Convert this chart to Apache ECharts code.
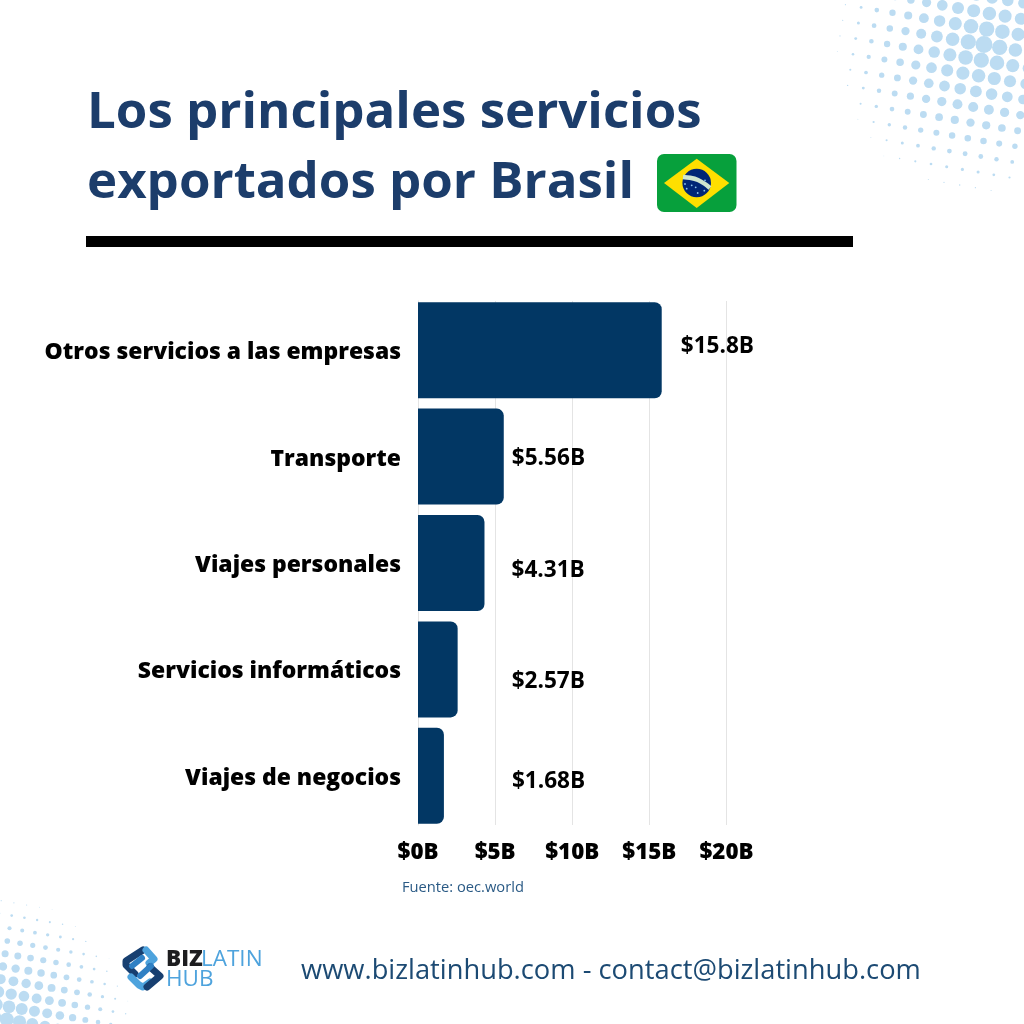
<!DOCTYPE html>
<html>
<head>
<meta charset="utf-8">
<style>
  html, body { margin: 0; padding: 0; background: #fff; }
  #chart { width: 1024px; height: 1024px; }
</style>
<script src="https://cdn.jsdelivr.net/npm/echarts@6/dist/echarts.min.js"></script>
</head>
<body>
<div id="chart"></div>
<script>
const categories = ['Otros servicios a las empresas', 'Transporte', 'Viajes personales', 'Servicios informáticos', 'Viajes de negocios'];
const values = [15.8, 5.56, 4.31, 2.57, 1.68];
const valueLabels = ['$15.8B', '$5.56B', '$4.31B', '$2.57B', '$1.68B'];

// the value labels do not sit at the bar ends in the original
const labelOffsets = [[19, -4], [8, 2], [27, 8], [54, 12], [68, 6]];

const FONT = '"Open Sans"';
const NAVY = '#1c3d6b';
const BAR = '#023764';
const GRIDLINE = '#e4e4e4';
const DOT = '#bcdcf2';

// halftone corner decoration
function halftone(cx, cy, ax, ay, ox, oy, maxR, reach) {
    const dots = [];
    for (let i = -25; i <= 25; i++) {
        for (let j = -25; j <= 25; j++) {
            const x = ax + i * 15.7 * ox - j * 2.7 * oy;
            const y = ay + i * 2.7 * ox + j * 15.6 * oy;
            const d = Math.hypot(x - cx, y - cy);
            const r = maxR * (1 - d / reach);
            if (r < 0.3 || x < -10 || x > 1034 || y < -10 || y > 1034) continue;
            dots.push({ type: 'circle', silent: true, z: 0, shape: { cx: x, cy: y, r: r }, style: { fill: DOT } });
        }
    }
    return dots;
}

function text(x, y, str, size, weight, color) {
    return { type: 'text', x: x, y: y, z: 5, style: { text: str, font: `${weight} ${size}px ${FONT}`, fill: color } };
}

function line(points, color, width) {
    return { type: 'polyline', z: 5, shape: { points: points }, style: { stroke: color, lineWidth: width, fill: null, lineJoin: 'round', lineCap: 'round' } };
}

const flagStars = [[686.7, 188.7], [691.7, 185.3], [695.7, 187.3], [697.7, 193], [704.3, 190.7], [705, 180.3], [685, 184]];

const flag = [
    { type: 'rect', z: 5, shape: { x: 657, y: 154, width: 79.5, height: 58, r: 7 }, style: { fill: '#07a03c' } },
    { type: 'polygon', z: 6, shape: { points: [[664, 183], [696.7, 158.7], [729.3, 183], [696.7, 208]] }, style: { fill: '#fedf00' } },
    { type: 'circle', z: 7, shape: { cx: 696.7, cy: 183, r: 14.3 }, style: { fill: '#002776' } },
    { type: 'polyline', z: 8, shape: { points: [[683, 177], [690, 177.8], [698, 180], [705, 184], [710, 188]], smooth: 0.3 }, style: { stroke: '#cfe6cf', lineWidth: 4.5, fill: null } }
].concat(flagStars.map(s => ({ type: 'circle', z: 9, shape: { cx: s[0], cy: s[1], r: 0.9 }, style: { fill: '#8cc4ec' } })));

const logo = [
    line([[143, 950], [126, 961], [126, 965], [135, 974]], '#173f70', 7),
    line([[146, 950], [154, 959], [149, 963]], '#4ea3dd', 7),
    line([[131, 977], [139, 985], [143, 987], [150, 982]], '#4ea3dd', 7),
    line([[150, 967], [160, 976], [147, 987]], '#173f70', 7),
    line([[132, 966], [142, 958]], '#2f80c4', 6),
    line([[140, 976], [151, 966]], '#2f80c4', 6),
    text(166, 948, 'BIZ', 22.5, 800, '#1d1d1f'),
    text(201, 948, 'LATIN', 22.5, 400, '#4ea3dd'),
    text(166, 968, 'HUB', 22.5, 400, '#4ea3dd')
];

const option = {
    backgroundColor: '#fff',
    animation: false,
    grid: [
        { left: 418, width: 308.5, top: 297, height: 532 },
        { left: 418, width: 308.5, top: 301, height: 524 }
    ],
    xAxis: [
        { gridIndex: 0, type: 'value', min: 0, max: 20, show: false },
        {
            gridIndex: 1,
            type: 'value',
            min: 0,
            max: 20,
            interval: 5,
            axisLine: { show: false },
            axisTick: { show: false },
            axisLabel: { formatter: v => '$' + v + 'B', color: '#000', fontFamily: FONT, fontWeight: 800, fontSize: 22.3, margin: 17 },
            splitLine: { show: true, lineStyle: { color: GRIDLINE, width: 1 } }
        }
    ],
    yAxis: [
        {
            gridIndex: 0,
            type: 'category',
            inverse: true,
            data: categories,
            axisLine: { show: false },
            axisTick: { show: false },
            axisLabel: { color: '#000', fontFamily: FONT, fontWeight: 800, fontSize: 22.9, margin: 17, verticalAlign: 'top', lineHeight: 5 }
        },
        {
            gridIndex: 1,
            type: 'value',
            min: 0,
            max: 1,
            axisLine: { show: true, lineStyle: { color: GRIDLINE } },
            axisTick: { show: false },
            axisLabel: { show: false },
            splitLine: { show: false }
        }
    ],
    series: [{
        type: 'bar',
        xAxisIndex: 0,
        yAxisIndex: 0,
        barWidth: 96,
        data: values.map((v, i) => ({
            value: v,
            label: { offset: labelOffsets[i] }
        })),
        itemStyle: { color: BAR, borderRadius: [0, 7, 7, 0] },
        label: {
            show: true,
            position: 'right',
            distance: 0,
            formatter: p => valueLabels[p.dataIndex],
            color: '#000',
            fontFamily: FONT,
            fontWeight: 700,
            fontSize: 22.6
        }
    }],
    graphic: [].concat(
        halftone(984, 45, 958, 8, 1, 1, 8.5, 155),
        halftone(-10, 1040, 7.3, 941, 0.81, 0.815, 8.5, 150),
        [
            text(87, 88, 'Los principales servicios', 51, 700, NAVY),
            text(87, 158, 'exportados por Brasil', 51, 700, NAVY),
            { type: 'rect', z: 5, shape: { x: 86, y: 236, width: 767, height: 11 }, style: { fill: '#000' } },
            text(402, 880, 'Fuente: oec.world', 14.7, 400, '#2a5a85'),
            text(301, 958, 'www.bizlatinhub.com - contact@bizlatinhub.com', 27.3, 400, '#1c4a73')
        ],
        flag,
        logo
    )
};

const chart = echarts.init(document.getElementById('chart'));
chart.setOption(option);
</script>
</body>
</html>
